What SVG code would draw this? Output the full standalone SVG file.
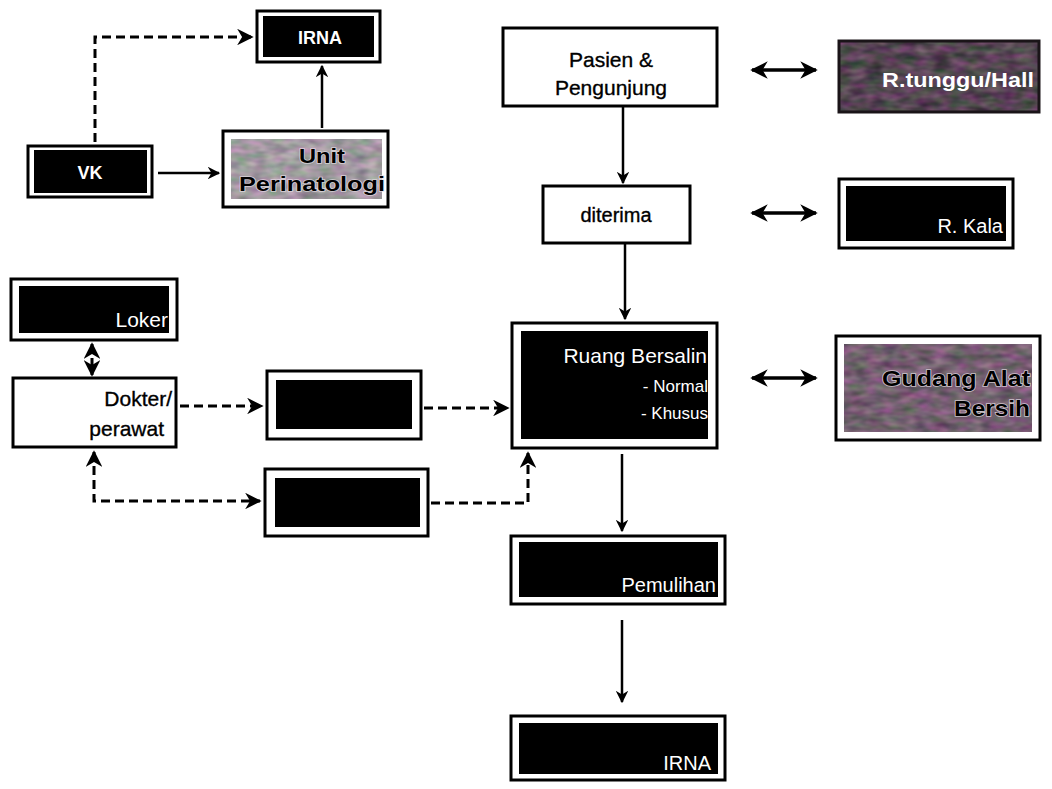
<svg xmlns="http://www.w3.org/2000/svg" width="1052" height="789" viewBox="0 0 1052 789">
  <style>
    .frame { fill: #fff; stroke: #000; stroke-width: 3; }
    .core { fill: #000; }
    .t { font-family: "Liberation Sans", Arial, sans-serif; }
    .w { fill: #fff; }
    .k { fill: #000; }
    .b { font-weight: bold; }
    .firm { stroke: #000; stroke-width: 0.35; }
    .line { fill: none; stroke: #000; stroke-width: 2.5; }
    .thick { fill: none; stroke: #000; stroke-width: 3.5; }
    .dash { fill: none; stroke: #000; stroke-width: 3; stroke-dasharray: 9 5; }
    .halo { stroke: #e6dfe6; stroke-width: 1.6; paint-order: stroke; stroke-opacity: 0.8; }
    .grain { opacity: 0.35; }
  </style>
  <defs>
    <marker id="ah" viewBox="0 0 10 10" refX="9" refY="5" markerWidth="5" markerHeight="5" orient="auto-start-reverse" markerUnits="strokeWidth">
      <path d="M0,0 L10,5 L0,10 L3,5 Z" fill="#000"/>
    </marker>
    <marker id="ahs" viewBox="0 0 10 10" refX="9" refY="5" markerWidth="5.5" markerHeight="5.5" orient="auto-start-reverse" markerUnits="strokeWidth">
      <path d="M0,0 L10,5 L0,10 L3,5 Z" fill="#000"/>
    </marker>
    <!-- grey/purple grain laid over the flat room colours -->
    <filter id="grain" x="0" y="0" width="100%" height="100%" color-interpolation-filters="sRGB">
      <feTurbulence type="fractalNoise" baseFrequency="0.06 0.13" numOctaves="2" seed="5" result="n"/>
      <feColorMatrix in="n" type="matrix" values="1.2 0 0 0 -0.1  0.4 0.8 0 0 -0.1  1.0 0 0.2 0 -0.1  0 0 0 0 1"/>
    </filter>
  </defs>

  <rect width="1052" height="789" fill="#fff"/>

  <!-- connectors -->
  <g id="connectors">
    <!-- VK to IRNA (dashed), VK to perinatology, perinatology to IRNA -->
    <polyline class="dash" points="95,142 95,37 252,37" marker-end="url(#ahs)"/>
    <line class="line" x1="158" y1="173" x2="219" y2="173" marker-end="url(#ah)"/>
    <line class="line" x1="322" y1="128" x2="322" y2="66" marker-end="url(#ah)"/>
    <!-- main flow -->
    <line class="line" x1="623" y1="106" x2="623" y2="183" marker-end="url(#ah)"/>
    <line class="line" x1="625" y1="244" x2="625" y2="319" marker-end="url(#ah)"/>
    <line class="line" x1="622" y1="454" x2="622" y2="531" marker-end="url(#ah)"/>
    <line class="line" x1="622" y1="620" x2="622" y2="702" marker-end="url(#ah)"/>
    <!-- two-way links to side rooms -->
    <line class="thick" x1="752" y1="70" x2="816" y2="70" marker-start="url(#ah)" marker-end="url(#ah)"/>
    <line class="thick" x1="752" y1="213" x2="816" y2="213" marker-start="url(#ah)" marker-end="url(#ah)"/>
    <line class="thick" x1="752" y1="378" x2="816" y2="378" marker-start="url(#ah)" marker-end="url(#ah)"/>
    <!-- staff routes -->
    <line class="dash" x1="92" y1="344" x2="92" y2="375" stroke-dasharray="5 4" marker-start="url(#ahs)" marker-end="url(#ahs)"/>
    <line class="dash" x1="180" y1="406" x2="262" y2="406" marker-end="url(#ahs)"/>
    <line class="dash" x1="424" y1="408" x2="508" y2="408" marker-end="url(#ahs)"/>
    <polyline class="dash" points="94,452 94,501 260,501" marker-start="url(#ahs)" marker-end="url(#ahs)"/>
    <polyline class="dash" points="431,503 528,503 528,453" marker-end="url(#ahs)"/>
  </g>

  <!-- nodes -->
  <g id="irna-top">
    <rect class="frame" x="257" y="11" width="123" height="51"/>
    <rect class="core" x="263" y="16" width="111" height="41"/>
    <text class="t w b" x="320" y="44" font-size="18" text-anchor="middle">IRNA</text>
  </g>

  <g id="vk">
    <rect class="frame" x="28" y="146" width="124" height="51"/>
    <rect class="core" x="34" y="150" width="113" height="43"/>
    <text class="t w b" x="90" y="179" font-size="18" text-anchor="middle">VK</text>
  </g>

  <g id="unit-perinatologi">
    <rect class="frame" x="223" y="131" width="165" height="76"/>
    <rect x="231" y="139" width="151" height="60" fill="#b3a9b2"/>
    <rect class="grain" x="231" y="139" width="151" height="60" filter="url(#grain)" opacity="0.25"/>
    <text class="t k b halo" x="322" y="163" font-size="20" text-anchor="middle" textLength="46" lengthAdjust="spacingAndGlyphs">Unit</text>
    <text class="t k b halo" x="312" y="191" font-size="20" text-anchor="middle" textLength="146" lengthAdjust="spacingAndGlyphs">Perinatologi</text>
  </g>

  <g id="pasien">
    <rect class="frame" x="503" y="28" width="214" height="78"/>
    <text class="t k firm" x="611" y="67" font-size="21" text-anchor="middle">Pasien &amp;</text>
    <text class="t k firm" x="611" y="95" font-size="21" text-anchor="middle">Pengunjung</text>
  </g>

  <g id="r-tunggu">
    <rect x="839" y="41" width="200" height="71" fill="#3e263a"/>
    <rect class="grain" x="839" y="41" width="200" height="71" filter="url(#grain)"/>
    <rect x="839" y="41" width="200" height="71" fill="none" stroke="#1a1418" stroke-width="3"/>
    <text class="t w b" x="1034" y="87" font-size="21" text-anchor="end" fill="#eee" textLength="152" lengthAdjust="spacingAndGlyphs">R.tunggu/Hall</text>
  </g>

  <g id="diterima">
    <rect class="frame" x="543" y="186" width="147" height="57"/>
    <text class="t k firm" x="616" y="222" font-size="20" text-anchor="middle">diterima</text>
  </g>

  <g id="r-kala">
    <rect class="frame" x="839" y="179" width="174" height="69"/>
    <rect class="core" x="846" y="186" width="160" height="55"/>
    <text class="t w" x="1003" y="233" font-size="20" text-anchor="end">R. Kala</text>
  </g>

  <g id="loker">
    <rect class="frame" x="11" y="279" width="166" height="61"/>
    <rect class="core" x="19" y="286" width="150" height="47"/>
    <text class="t w" x="168" y="327" font-size="21" text-anchor="end">Loker</text>
  </g>

  <g id="dokter-perawat">
    <rect class="frame" x="13" y="378" width="163" height="69"/>
    <text class="t k firm" x="172" y="406" font-size="21" text-anchor="end">Dokter/</text>
    <text class="t k firm" x="164" y="436" font-size="21" text-anchor="end">perawat</text>
  </g>

  <g id="ruang-antara-1">
    <rect class="frame" x="267" y="371" width="154" height="68"/>
    <rect class="core" x="276" y="380" width="136" height="49"/>
  </g>

  <g id="ruang-antara-2">
    <rect class="frame" x="265" y="469" width="163" height="67"/>
    <rect class="core" x="275" y="478" width="145" height="49"/>
  </g>

  <g id="ruang-bersalin">
    <rect class="frame" x="512" y="323" width="205" height="125"/>
    <rect class="core" x="521" y="331" width="187" height="108"/>
    <text class="t w" x="707" y="363" font-size="21" text-anchor="end">Ruang Bersalin</text>
    <text class="t w" x="708" y="392" font-size="17" text-anchor="end">- Normal</text>
    <text class="t w" x="708" y="419" font-size="17" text-anchor="end">- Khusus</text>
  </g>

  <g id="gudang">
    <rect class="frame" x="836" y="336" width="204" height="104"/>
    <rect x="844" y="344" width="188" height="88" fill="#6e4e68"/>
    <rect class="grain" x="844" y="344" width="188" height="88" filter="url(#grain)"/>
    <text class="t k b halo" x="1030" y="386" font-size="22" text-anchor="end" textLength="148" lengthAdjust="spacingAndGlyphs">Gudang Alat</text>
    <text class="t k b halo" x="1030" y="416" font-size="22" text-anchor="end" textLength="76" lengthAdjust="spacingAndGlyphs">Bersih</text>
  </g>

  <g id="pemulihan">
    <rect class="frame" x="511" y="536" width="214" height="68"/>
    <rect class="core" x="519" y="542" width="199" height="55"/>
    <text class="t w" x="716" y="592" font-size="20" text-anchor="end">Pemulihan</text>
  </g>

  <g id="irna-bottom">
    <rect class="frame" x="511" y="716" width="214" height="64"/>
    <rect class="core" x="519" y="723" width="199" height="51"/>
    <text class="t w" x="711" y="770" font-size="20" text-anchor="end">IRNA</text>
  </g>
</svg>
